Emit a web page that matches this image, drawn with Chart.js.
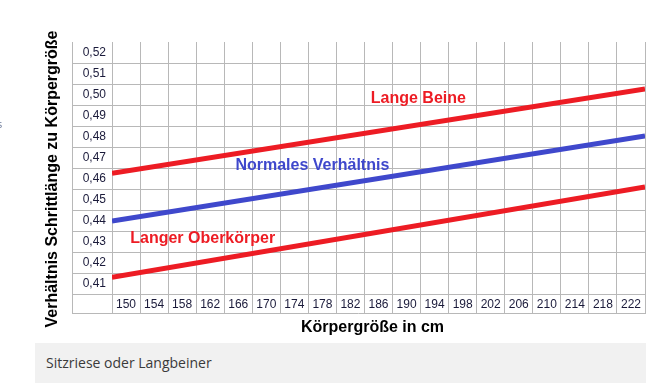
<!DOCTYPE html>
<html><head><meta charset="utf-8">
<script src="https://cdn.jsdelivr.net/npm/chart.js@4/dist/chart.umd.min.js"></script>
<style>
html,body{margin:0;padding:0;background:#fff;width:672px;height:383px;overflow:hidden;position:relative;font-family:"Liberation Sans",Arial,sans-serif}
#wrap{position:absolute;left:0;top:0;width:672px;height:340px}
#cap{position:absolute;left:35px;top:343px;width:611px;height:40px;background:#f1f1f1;font-family:"Open Sans",sans-serif;font-size:14px;color:#3a3a3a;line-height:40px;padding-left:11px;box-sizing:border-box}
#cut{position:absolute;left:-3px;top:116px;font:11px "Open Sans",sans-serif;color:#6d7b9a}
</style></head><body>
<div id="wrap"><canvas id="c"></canvas></div>
<div id="cut">s</div>
<div id="cap">Sitzriese oder Langbeiner</div>
<script>
// ---- data ----
const heightLabels = ['150','154','158','162','166','170','174','178','182','186','190','194','198','202','206','210','214','218','222'];
const ratioLabels = ['0,52','0,51','0,50','0,49','0,48','0,47','0,46','0,45','0,44','0,43','0,42','0,41'];
const heightEnds = [148, 224];
const langeBeine = [0.4625, 0.5026];
const normalesVerhaeltnis = [0.4398, 0.4803];
const langerOberkoerper = [0.4129, 0.4560];
const seriesNames = ['Lange Beine', 'Normales Verhältnis', 'Langer Oberkörper'];
const yTitle = 'Verhältnis Schrittlänge zu Körpergröße';
const xTitle = 'Körpergröße in cm';

const RED = '#ed1c24', BLUE = '#3f48cc', GRID = '#b8b8b8', TICK = '#1a1a3a';
const tickFont = {family: '"Liberation Sans", Arial', size: 12};

const pts = arr => heightEnds.map((x, i) => ({x: x, y: arr[i]}));
const lineDs = (name, arr, col) => ({
  label: name, data: pts(arr), borderColor: col, backgroundColor: col,
  borderWidth: 5, pointRadius: 0, borderCapStyle: 'butt', xAxisID: 'xl', yAxisID: 'yl', tension: 0
});

const extras = {
  id: 'extras',
  afterDatasetsDraw(chart, args, opts){
    const {ctx} = chart;
    const xs = chart.scales.x, ys = chart.scales.y, xl = chart.scales.xl, yl = chart.scales.yl;
    ctx.save();
    ctx.strokeStyle = GRID; ctx.lineWidth = 1;
    ctx.beginPath();
    ctx.moveTo(ys.left + 0.5, ys.top); ctx.lineTo(ys.left + 0.5, xs.top + 20);
    ctx.moveTo(ys.left, xs.top + 19.5); ctx.lineTo(xs.right, xs.top + 19.5);
    ctx.stroke();
    ctx.font = 'bold 16px "Liberation Sans", Arial';
    ctx.textAlign = 'left'; ctx.textBaseline = 'middle';
    opts.anchors.forEach((a, i) => {
      ctx.fillStyle = a.color;
      ctx.fillText(seriesNames[i], xl.getPixelForValue(a.x), yl.getPixelForValue(a.y));
    });
    ctx.fillStyle = '#000';
    ctx.textAlign = 'center';
    ctx.fillText(xTitle, (xs.left + xs.right) / 2 - 6, xs.bottom + 13.5);
    ctx.translate(ys.left - 19.5, (ys.top + xs.bottom) / 2 + 1);
    ctx.rotate(-Math.PI / 2);
    ctx.fillText(yTitle, 0, 0);
    ctx.restore();
  }
};

new Chart(document.getElementById('c'), {
  type: 'line',
  data: {
    labels: heightLabels,
    datasets: [
      lineDs(seriesNames[0], langeBeine, RED),
      lineDs(seriesNames[1], normalesVerhaeltnis, BLUE),
      lineDs(seriesNames[2], langerOberkoerper, RED)
    ]
  },
  options: {
    responsive: true, maintainAspectRatio: false, animation: false, devicePixelRatio: 1,
    layout: {padding: {left: 72, top: 42, right: 27, bottom: 26}},
    plugins: {
      legend: {display: false}, tooltip: {enabled: false},
      extras: {anchors: [
        {x: 184.9, y: 0.4980, color: RED},
        {x: 165.6, y: 0.4660, color: BLUE},
        {x: 150.6, y: 0.4313, color: RED}
      ]}
    },
    scales: {
      x: {
        type: 'category', labels: heightLabels, offset: true, position: 'bottom',
        grid: {offset: true, color: GRID, tickColor: GRID, tickLength: 20, lineWidth: 1},
        border: {color: GRID},
        ticks: {color: TICK, font: tickFont, padding: -17, autoSkip: false, maxRotation: 0},
        afterFit(s){ s.height = 20; }
      },
      y: {
        type: 'category', labels: ratioLabels, offset: true, position: 'left',
        grid: {offset: true, tickLength: 40, lineWidth: 1,
               color: c => c.index === 0 ? 'rgba(0,0,0,0)' : GRID,
               tickColor: c => c.index === 0 ? 'rgba(0,0,0,0)' : GRID},
        border: {color: GRID},
        ticks: {color: TICK, font: tickFont, padding: -34, autoSkip: false},
        afterFit(s){ s.width = 40; }
      },
      xl: {type: 'linear', display: false, min: 148, max: 224},
      yl: {type: 'linear', display: false, min: 0.405, max: 0.525}
    }
  },
  plugins: [extras]
});
</script>
</body></html>
